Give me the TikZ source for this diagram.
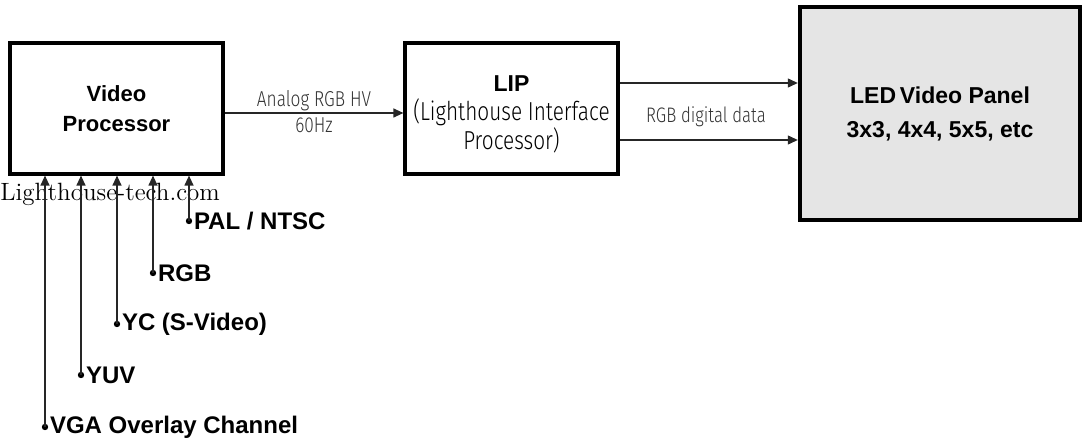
\documentclass[tikz,border=0pt]{standalone}
\usepackage{fontspec}
\setmainfont{Liberation Sans}
\newfontfamily\lightfont[FakeStretch=0.8]{Fira Sans Light}
\newfontfamily\webfont{Latin Modern Roman}
\usetikzlibrary{arrows.meta,positioning}

\begin{document}
\begin{tikzpicture}[x=0.5pt, y=-0.5pt,
    block/.style={draw, line width=1.6pt, inner sep=0pt, align=center,
      minimum width=106.5pt, minimum height=65.5pt},
    link/.style={draw=black!85, line width=0.6pt, -{Triangle[length=5pt,width=4.5pt]}},
    pin/.style={circle, fill=black, inner sep=0pt, minimum size=3.2pt},
    srclabel/.style={right, inner sep=0.5pt, font=\fontsize{12}{14}\selectfont\bfseries},
    wire/.style={font=\lightfont\fontsize{10.8}{12}\selectfont, text=black!80, inner sep=0.8pt}]
    \useasboundingbox (0,0) rectangle (1082,443);

    % main chain
    \node[block, font=\fontsize{11}{15}\selectfont\bfseries] (vp) at (116.5,108.5) {Video\\Processor};
    \node[block] (lip) at (511.5,108.5) {};
    \node[align=center, inner sep=0pt, font=\fontsize{11.5}{13.5}\selectfont] (liptxt) at ([yshift=-3pt]lip.center)
      {\textbf{LIP}\\[1pt]{\lightfont\fontsize{13}{13}\selectfont (Lighthouse Interface}\\{\lightfont\fontsize{13}{13}\selectfont Processor)}};
    \node[block, line width=2.2pt, fill=black!10, minimum width=140pt, minimum height=106.5pt,
      font=\fontsize{11.5}{17}\selectfont\bfseries] (led) at (940,113.5) {LED\,Video Panel\\3x3, 4x4, 5x5, etc};

    \node[anchor=base west, inner sep=0pt, font=\webfont\fontsize{12.5}{13}\selectfont, text=black] (mark) at (0,201) {Lighthouse-tech.com};

    \draw[link] (vp.east |- 0,113) -- node[wire, above] (ahv) {Analog RGB HV} node[wire, below, inner sep=2pt] (hz) {60Hz} (lip.west |- 0,113);
    \draw[link] (lip.east |- 0,83) -- (led.west |- 0,83);
    \draw[link] (lip.east |- 0,140) -- (led.west |- 0,140);
    \node[wire, font=\lightfont\fontsize{10.5}{12}\selectfont] (rgbd) at (706,117) {RGB digital data};

    % inputs
    \node[pin] (pal) at (189,221) {};
    \node[pin] (rgb) at (153,273) {};
    \node[pin] (yc) at (117,324) {};
    \node[pin] (yuv) at (81,375) {};
    \node[pin] (vga) at (45,427) {};
    \node[srclabel] (pallbl) at (pal.east) {PAL / NTSC};
    \node[srclabel] (rgblbl) at (rgb.east) {RGB};
    \node[srclabel] (yclbl) at (yc.east) {YC (S-Video)};
    \node[srclabel] (yuvlbl) at (yuv.east) {YUV};
    \node[srclabel] (vgalbl) at (vga.east) {VGA Overlay Channel};
    \foreach \src in {pal,rgb,yc,yuv,vga}
      \draw[link] (\src.center) -- (\src |- vp.south);
\end{tikzpicture}
\end{document}
